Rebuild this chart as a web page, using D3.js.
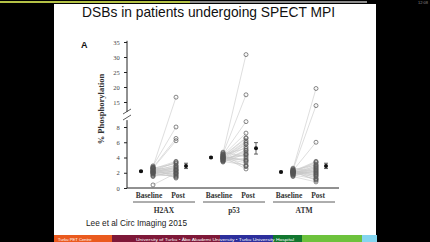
<!DOCTYPE html>
<html>
<head>
<meta charset="utf-8">
<script src="https://cdn.jsdelivr.net/npm/d3@7"></script>
<style>
  html, body { margin: 0; padding: 0; background: #000; }
  svg { display: block; }
</style>
</head>
<body>
<div id="chart"></div>
<script>
var groups = ["H2AX", "p53", "ATM"]

// paired values per patient (baseline -> post), % phosphorylation
var h2axBase = [2.8, 2.9, 2.7, 2.6, 2.5, 2.4, 2.6, 2.2, 2.3, 2.0, 2.1, 1.9, 2.5, 2.2, 1.8, 2.0, 2.7, 1.7, 2.4, 2.1, 1.6, 2.3, 1.9, 2.0, 2.6, 2.2, 1.5, 0.4]
var h2axPost = [16.6, 8.0, 6.5, 6.2, 3.5, 3.3, 3.2, 3.0, 2.9, 2.8, 2.7, 2.6, 2.5, 2.4, 2.3, 2.2, 2.1, 2.0, 1.9, 1.8, 1.7, 1.6, 1.5, 1.4, 1.3, 3.4, 2.35, 1.95]
var p53Base = [4.6, 4.5, 4.4, 4.3, 4.2, 4.1, 4.0, 3.9, 3.8, 3.7, 3.6, 3.5, 3.4, 4.7, 4.0, 3.9, 4.3, 4.1, 3.8, 3.6, 4.2, 3.7, 4.4, 3.5, 4.0, 3.9, 4.1, 3.8]
var p53Post = [30.8, 17.4, 8.7, 7.2, 6.6, 6.5, 6.2, 5.8, 5.7, 5.4, 5.0, 4.9, 4.5, 4.1, 3.7, 3.3, 2.8, 2.5, 4.3, 3.9, 3.5, 4.7, 5.2, 3.0, 6.0, 4.4, 3.6, 2.9]
var atmBase = [2.5, 2.4, 2.3, 2.2, 2.1, 2.0, 1.9, 1.8, 1.7, 1.6, 2.6, 2.2, 2.0, 1.9, 2.3, 2.1, 1.5, 2.4, 2.0, 1.8, 2.2, 2.1, 1.9, 2.3, 2.0, 1.7, 2.1, 2.2]
var atmPost = [19.5, 13.8, 6.0, 3.5, 3.3, 3.1, 2.9, 2.7, 2.5, 2.3, 2.1, 1.9, 1.7, 1.5, 1.3, 1.1, 0.8, 3.0, 2.6, 2.2, 2.0, 1.8, 2.4, 1.6, 2.8, 1.2, 3.4, 1.0]

var baseMean = [2.2, 4.0, 2.1]
var baseErr = [0.1, 0.1, 0.1]
var postMean = [2.9, 5.2, 2.9]
var postErr = [0.35, 0.75, 0.35]

var lowTicks = [0, 2, 4, 6, 8]
var highTicks = [15, 20, 25, 30, 35]

var footerParts = [
  {name: "orange", w: 58, color: "#ea5a1e"},
  {name: "maroon", w: 108, color: "#7e1838"},
  {name: "blue", w: 53, color: "#2c2f9c"},
  {name: "dgreen", w: 29, color: "#12772f"},
  {name: "lgreen", w: 60, color: "#6dc23c"},
  {name: "lblue", w: 15, color: "#84d5ef"}
]

var paired = [
  {base: h2axBase, post: h2axPost},
  {base: p53Base, post: p53Post},
  {base: atmBase, post: atmPost}
]

var width = 430, height = 242

var svg = d3.select("#chart").append("svg")
  .attr("width", width)
  .attr("height", height)

// slide
svg.append("rect").attr("width", width).attr("height", height).attr("fill", "#000")
svg.append("rect").attr("x", 54).attr("y", 4).attr("width", 322).attr("height", 231).attr("fill", "#fff")

// progress bar at top
svg.append("rect").attr("x", 0).attr("y", 1).attr("width", 367).attr("height", 2).attr("fill", "#8c8c8c")
svg.append("rect").attr("x", 0).attr("y", 1).attr("width", 190).attr("height", 2).attr("fill", "#b4c246")
svg.append("text").attr("x", 428).attr("y", 4).attr("text-anchor", "end")
  .attr("font-family", "Liberation Sans").attr("font-size", 4).attr("fill", "#888").text("12:08")

svg.append("text")
  .attr("x", 82).attr("y", 17)
  .attr("font-family", "Liberation Sans, Arial, sans-serif")
  .attr("font-size", 15)
  .attr("textLength", 253).attr("lengthAdjust", "spacingAndGlyphs")
  .attr("fill", "#111")
  .text("DSBs in patients undergoing SPECT MPI")

svg.append("text").attr("x", 81).attr("y", 48)
  .attr("font-family", "Liberation Sans, Arial, sans-serif").attr("font-weight", "bold")
  .attr("font-size", 9).attr("fill", "#111").text("A")

// scales: broken y axis
var yLow = d3.scaleLinear().domain([0, 8]).range([188, 127])
var yHigh = d3.scaleLinear().domain([15, 35]).range([102, 42])
function y(v) { return v < 10.5 ? yLow(v) : yHigh(v) }

var x = d3.scalePoint().domain(groups).range([164, 304])
var off = {bm: -23, b: -11, p: 12, pm: 22}

var serif = "Liberation Serif, Times New Roman, serif"

// axes
var axisLow = d3.axisLeft(yLow).tickValues(lowTicks).tickSize(3).tickSizeOuter(0)
var axisHigh = d3.axisLeft(yHigh).tickValues(highTicks).tickSize(3).tickSizeOuter(0)

var gLow = svg.append("g").attr("transform", "translate(127,0)").call(axisLow)
gLow.select(".domain").attr("d", "M0," + yLow(0) + "V" + yLow(8.9))
var gHigh = svg.append("g").attr("transform", "translate(127,0)").call(axisHigh)
gHigh.select(".domain").attr("d", "M0," + yHigh(11.7) + "V" + yHigh(35.4))
svg.selectAll(".tick text").attr("font-family", serif).attr("font-size", 6.5).attr("fill", "#444").attr("dx", "-0.2em")
svg.selectAll(".domain, .tick line").attr("stroke", "#222").attr("stroke-width", 1)

// break marks
var brk = svg.append("g").attr("stroke", "#333").attr("stroke-width", 0.8)
brk.append("line").attr("x1", 123).attr("y1", 114).attr("x2", 131).attr("y2", 109)
brk.append("line").attr("x1", 123).attr("y1", 120).attr("x2", 131).attr("y2", 115)

// x axis line
svg.append("line").attr("x1", 127).attr("x2", 339).attr("y1", 188).attr("y2", 188)
  .attr("stroke", "#222").attr("stroke-width", 1)

svg.append("text")
  .attr("transform", "translate(104,109) rotate(-90)")
  .attr("text-anchor", "middle")
  .attr("font-family", serif).attr("font-weight", "bold").attr("font-size", 8.5)
  .attr("fill", "#333")
  .text("% Phosphorylation")

// paired lines and points
groups.forEach(function(g, i) {
  var cx = x(g)
  var d = paired[i]
  var gg = svg.append("g")
  gg.selectAll("line.pair").data(d.base).join("line")
    .attr("x1", cx + off.b).attr("y1", function(v) { return y(v) })
    .attr("x2", cx + off.p).attr("y2", function(v, j) { return y(d.post[j]) })
    .attr("stroke", "#c8c8c8").attr("stroke-width", 0.6)
  gg.selectAll("circle.b").data(d.base).join("circle")
    .attr("cx", cx + off.b).attr("cy", function(v) { return y(v) }).attr("r", 2)
    .attr("fill", "none").attr("stroke", "#555").attr("stroke-width", 0.7)
  gg.selectAll("circle.p").data(d.post).join("circle")
    .attr("cx", cx + off.p).attr("cy", function(v) { return y(v) }).attr("r", 2)
    .attr("fill", "none").attr("stroke", "#555").attr("stroke-width", 0.7)

  // means with error bars
  ;[[off.bm, baseMean[i], baseErr[i]], [off.pm, postMean[i], postErr[i]]].forEach(function(m) {
    var mx = cx + m[0]
    gg.append("line").attr("x1", mx).attr("x2", mx).attr("y1", y(m[1] - m[2])).attr("y2", y(m[1] + m[2]))
      .attr("stroke", "#222").attr("stroke-width", 0.7)
    ;[m[1] - m[2], m[1] + m[2]].forEach(function(e) {
      gg.append("line").attr("x1", mx - 2).attr("x2", mx + 2).attr("y1", y(e)).attr("y2", y(e))
        .attr("stroke", "#222").attr("stroke-width", 0.7)
    })
    gg.append("circle").attr("cx", mx).attr("cy", y(m[1])).attr("r", 2).attr("fill", "#111")
  })

  // labels
  var lab = svg.append("g").attr("font-family", serif).attr("font-weight", "bold")
    .attr("font-size", 7.5).attr("fill", "#333").attr("text-anchor", "middle")
  lab.append("text").attr("x", cx - 15).attr("y", 198).text("Baseline")
  lab.append("text").attr("x", cx + 14).attr("y", 198).text("Post")
  lab.append("text").attr("x", cx).attr("y", 213).text(g)
  svg.append("line").attr("x1", cx - 31).attr("x2", cx + 31).attr("y1", 202).attr("y2", 202)
    .attr("stroke", "#333").attr("stroke-width", 0.8)
})

svg.append("text").attr("x", 86).attr("y", 226)
  .attr("font-family", "Liberation Sans, Arial, sans-serif").attr("font-size", 9.5)
  .attr("textLength", 101).attr("lengthAdjust", "spacingAndGlyphs")
  .attr("fill", "#222").text("Lee et al Circ Imaging 2015")

// footer strip
var fx = 54
footerParts.forEach(function(p) {
  svg.append("rect").attr("x", fx).attr("y", 235).attr("width", p.w).attr("height", 7).attr("fill", p.color)
  fx += p.w
})
svg.append("text").attr("x", 58).attr("y", 240.5).attr("font-family", "Liberation Sans").attr("font-size", 4.2)
  .attr("fill", "#fff").text("Turku PET Centre")
svg.append("text").attr("x", 136).attr("y", 240.5).attr("font-family", "Liberation Sans").attr("font-size", 4.2)
  .attr("textLength", 158).attr("lengthAdjust", "spacingAndGlyphs")
  .attr("fill", "#fff").text("University of Turku \u2022 \u00c5bo Akademi University \u2022 Turku University Hospital")
</script>
</body>
</html>
